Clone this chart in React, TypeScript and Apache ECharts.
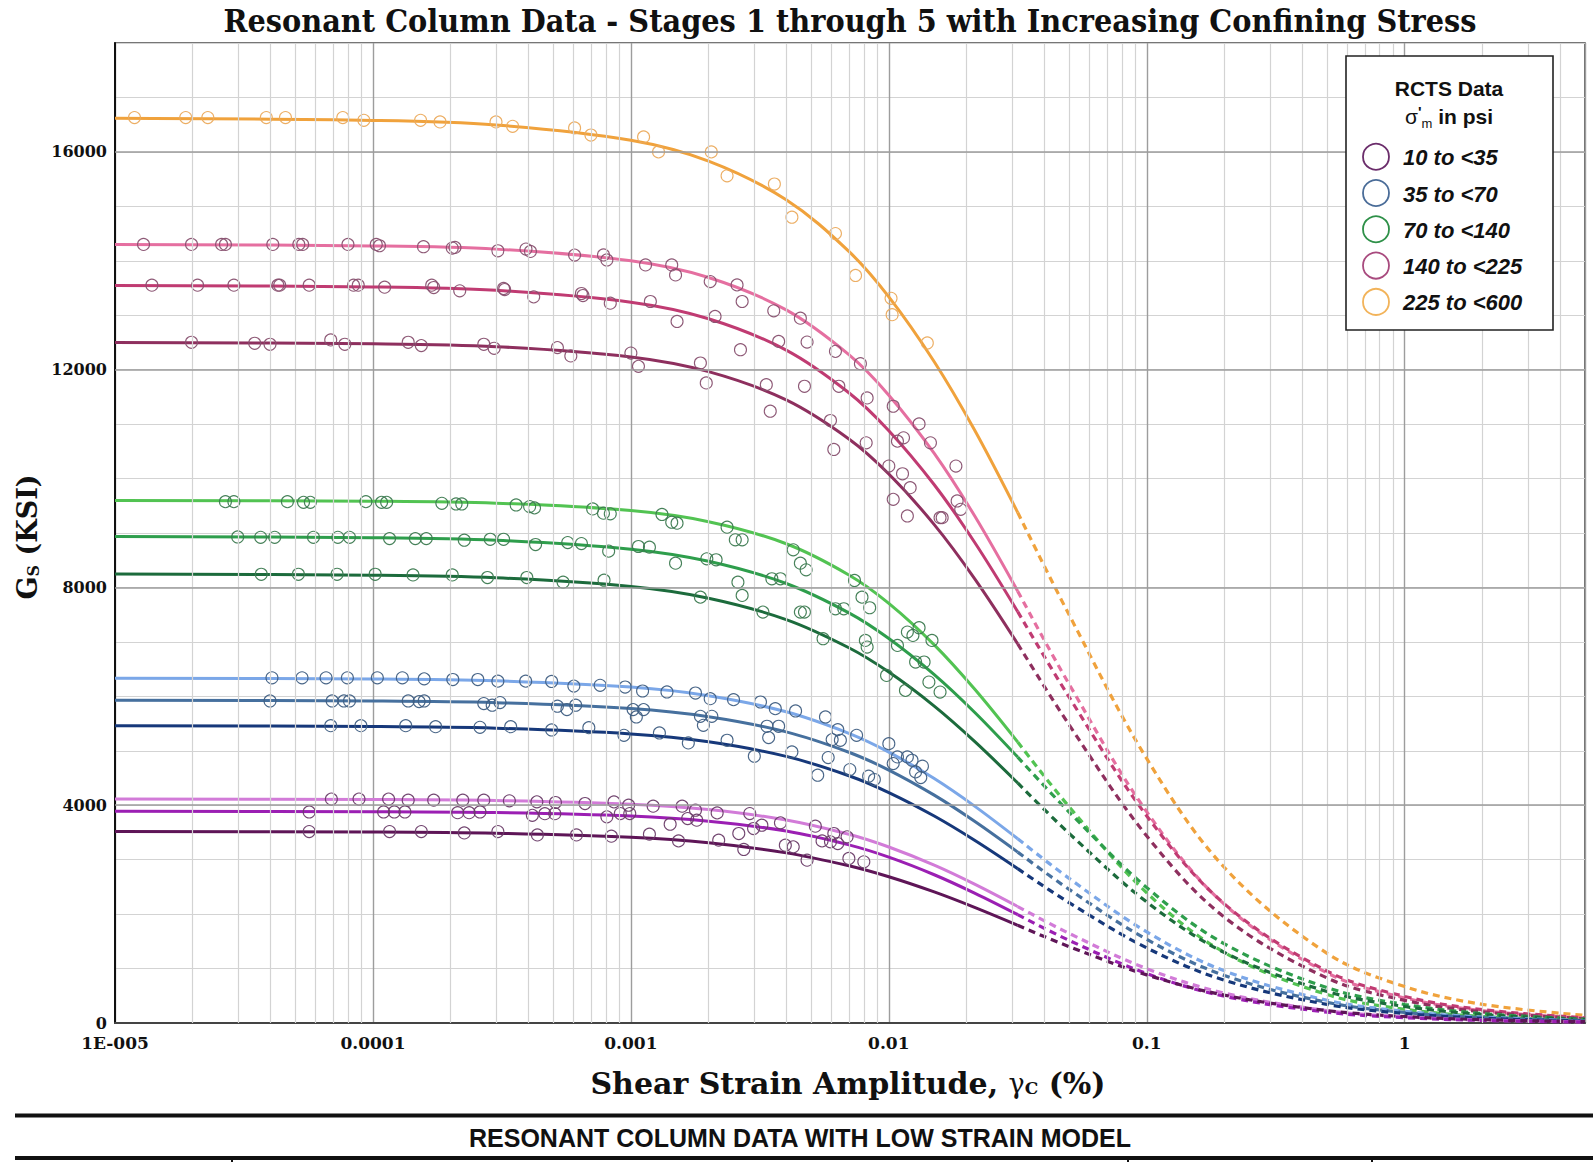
import React, { useEffect, useRef } from "react";
import * as echarts from "echarts";

const W = 1593;
const H = 1162;

// ---------- axis ticks / labels ----------
const xTickLabels = ["1E-005", "0.0001", "0.001", "0.01", "0.1", "1"];
const yMajorTicks = [4000, 8000, 12000, 16000];
const legendLabels = ["10 to <35", "35 to <70", "70 to <140", "140 to <225", "225 to <600"];

// ---------- model curve sample strains (%) ----------
const solidStrain = [1e-5, 1e-4, 3e-4, 1e-3, 2e-3, 4e-3, 7e-3, 0.01, 0.015, 0.0215, 0.0316];
const dashStrain = [0.0316, 0.05, 0.1, 0.2, 0.5, 1, 2, 5];

// ---------- model curves, Gs (ksi) ----------
const orangeSolid = [16616, 16578, 16495, 16215, 15832, 15121, 14172, 13337, 12146, 10891, 9376];
const orangeDash = [9376, 7497, 4855, 2856, 1280, 669, 343, 140];
const pinkSolid = [14298, 14273, 14214, 14000, 13693, 13098, 12275, 11532, 10461, 9316, 7931];
const pinkDash = [7931, 6223, 3879, 2180, 921, 460, 226, 87];
const magentaSolid = [13547, 13520, 13457, 13239, 12936, 12359, 11576, 10879, 9886, 8830, 7556];
const magentaDash = [7556, 5985, 3803, 2188, 954, 488, 245, 97];
const plumSolid = [12498, 12475, 12423, 12234, 11964, 11445, 10728, 10084, 9154, 8163, 6964];
const plumDash = [6964, 5477, 3435, 1943, 827, 416, 205, 80];
const greenLightSolid = [9599, 9584, 9548, 9412, 9208, 8803, 8230, 7708, 6946, 6134, 5161];
const greenLightDash = [5161, 3972, 2391, 1296, 522, 253, 120, 45];
const greenSolid = [8937, 8915, 8867, 8703, 8481, 8073, 7534, 7063, 6400, 5708, 4884];
const greenDash = [4884, 3875, 2487, 1454, 650, 340, 174, 71];
const greenDarkSolid = [8247, 8225, 8178, 8018, 7803, 7410, 6892, 6445, 5820, 5172, 4409];
const greenDarkDash = [4409, 3483, 2222, 1295, 579, 303, 156, 64];
const blueLightSolid = [6333, 6318, 6285, 6170, 6012, 5716, 5321, 4976, 4490, 3984, 3384];
const blueLightDash = [3384, 2656, 1673, 958, 418, 215, 109, 44];
const steelSolid = [5929, 5915, 5884, 5776, 5626, 5347, 4973, 4646, 4185, 3705, 3139];
const steelDash = [3139, 2454, 1536, 874, 379, 194, 97, 39];
const navySolid = [5459, 5445, 5414, 5309, 5165, 4897, 4542, 4233, 3802, 3357, 2835];
const navyDash = [2835, 2210, 1379, 785, 341, 175, 88, 35];
const orchidSolid = [4114, 4106, 4088, 4019, 3920, 3729, 3466, 3232, 2899, 2550, 2139];
const orchidDash = [2139, 1646, 998, 549, 227, 112, 55, 21];
const violetSolid = [3889, 3882, 3865, 3801, 3707, 3525, 3271, 3046, 2723, 2386, 1990];
const violetDash = [1990, 1518, 907, 491, 199, 97, 47, 18];
const purpleSolid = [3519, 3508, 3485, 3410, 3309, 3125, 2888, 2686, 2407, 2123, 1794];
const purpleDash = [1794, 1403, 884, 511, 228, 119, 61, 25];

// ---------- RCTS measured points [strain %, Gs ksi] ----------
const orangePts = [
  [1.19e-5, 16630], [1.88e-5, 16630], [2.29e-5, 16630], [3.86e-5, 16630], [4.58e-5, 16630], [7.64e-5, 16630],
  [9.22e-5, 16580], [1.53e-4, 16580], [1.82e-4, 16550], [3.0e-4, 16550], [3.48e-4, 16470], [6.05e-4, 16440],
  [7.0e-4, 16310], [1.12e-3, 16275], [1.28e-3, 16000], [2.05e-3, 16000], [2.36e-3, 15560], [3.6e-3, 15410],
  [4.21e-3, 14800], [6.21e-3, 14500], [7.43e-3, 13730], [0.0102, 13310], [0.0103, 13010], [0.0141, 12490],
];
const pinkPts = [
  [1.29e-5, 14300], [1.98e-5, 14300], [2.59e-5, 14300], [2.68e-5, 14300], [4.09e-5, 14300], [5.16e-5, 14300],
  [5.34e-5, 14300], [8.0e-5, 14300], [1.03e-4, 14300], [1.06e-4, 14276], [1.57e-4, 14258], [2.03e-4, 14233],
  [2.08e-4, 14245], [3.05e-4, 14184], [3.92e-4, 14215], [4.08e-4, 14172], [6.05e-4, 14104],
  [1.39e-5, 13552], [2.09e-5, 13552], [2.89e-5, 13552], [4.28e-5, 13552], [4.35e-5, 13552], [5.66e-5, 13552],
  [8.41e-5, 13552], [8.77e-5, 13552], [1.11e-4, 13515], [1.69e-4, 13552], [1.72e-4, 13509], [2.17e-4, 13448],
  [3.21e-4, 13491], [3.24e-4, 13472], [4.2e-4, 13337], [6.43e-4, 13399], [6.52e-4, 13362],
  [1.98e-5, 12503], [3.48e-5, 12485], [3.99e-5, 12466], [6.86e-5, 12546], [7.78e-5, 12466], [1.37e-4, 12503],
  [1.54e-4, 12442], [2.69e-4, 12466], [2.95e-4, 12393], [5.19e-4, 12405], [5.85e-4, 12252],
  [7.83e-4, 14107], [8.07e-4, 14015], [1.14e-3, 13924], [1.44e-3, 13924], [1.49e-3, 13740], [2.03e-3, 13618],
  [2.58e-3, 13557], [2.7e-3, 13252], [3.58e-3, 13081], [4.54e-3, 12946], [6.21e-3, 12336], [7.76e-3, 12110],
  [1.04e-2, 11328], [1.31e-2, 11004], [1.45e-2, 10656], [1.82e-2, 10229], [1.84e-2, 9588], [1.9e-2, 9435],
  [8.32e-4, 13221], [1.19e-3, 13252], [1.51e-3, 12885], [2.12e-3, 12977], [2.66e-3, 12366], [3.74e-3, 12519],
  [4.82e-3, 12507], [6.4e-3, 11695], [8.24e-3, 11481], [1.08e-2, 10687], [1.14e-2, 10748], [1.58e-2, 9282],
  [1.0e-3, 12305], [1.07e-3, 12061], [1.86e-3, 12122], [1.96e-3, 11756], [3.35e-3, 11725], [3.47e-3, 11237],
  [4.71e-3, 11695], [5.94e-3, 11066], [6.12e-3, 10534], [8.17e-3, 10656], [0.01, 10229], [1.04e-2, 9618],
  [1.13e-2, 10088], [1.21e-2, 9832], [1.18e-2, 9313], [1.61e-2, 9282],
];
const greenPts = [
  [2.68e-5, 9576], [2.89e-5, 9576], [4.66e-5, 9576], [5.38e-5, 9563], [5.72e-5, 9563], [9.39e-5, 9576],
  [1.08e-4, 9563], [1.13e-4, 9563], [1.85e-4, 9545], [2.1e-4, 9533], [2.21e-4, 9533], [3.59e-4, 9515],
  [4.05e-4, 9485], [4.23e-4, 9461], [7.11e-4, 9442],
  [2.99e-5, 8927], [3.67e-5, 8921], [4.16e-5, 8921], [5.88e-5, 8921], [7.31e-5, 8921], [8.11e-5, 8921],
  [1.16e-4, 8897], [1.46e-4, 8897], [1.61e-4, 8897], [2.26e-4, 8867], [2.85e-4, 8885], [3.21e-4, 8885],
  [4.27e-4, 8788], [5.69e-4, 8824], [6.43e-4, 8806],
  [3.69e-5, 8242], [5.14e-5, 8242], [7.26e-5, 8242], [1.02e-4, 8242], [1.43e-4, 8230], [2.03e-4, 8230],
  [2.78e-4, 8182], [3.95e-4, 8182], [5.46e-4, 8097], [7.87e-4, 8133],
  [7.83e-4, 9364], [8.32e-4, 9352], [1.32e-3, 9340], [1.44e-3, 9198], [1.51e-3, 9180], [2.36e-3, 9107],
  [2.54e-3, 8875], [2.7e-3, 8875], [4.26e-3, 8691], [4.54e-3, 8446], [4.78e-3, 8324], [7.36e-3, 8128],
  [7.87e-3, 7822], [8.43e-3, 7627], [1.18e-2, 7180], [1.31e-2, 7260], [1.47e-2, 7027], [1.24e-2, 7119],
  [1.37e-2, 6630], [1.07e-3, 8752], [1.18e-3, 8740], [8.2e-4, 8667], [1.49e-3, 8446], [1.97e-3, 8526],
  [2.14e-3, 8508], [1.86e-3, 7822], [2.6e-3, 8097], [2.7e-3, 7853], [3.52e-3, 8159], [3.8e-3, 8159],
  [3.25e-3, 7547], [4.54e-3, 7547], [4.71e-3, 7547], [5.56e-3, 7058], [6.21e-3, 7608], [6.69e-3, 7608],
  [8.11e-3, 7027], [8.24e-3, 6905], [9.8e-3, 6384], [1.08e-2, 6935], [1.16e-2, 6109], [1.27e-2, 6630],
  [1.43e-2, 6262], [1.58e-2, 6078],
];
const bluePts = [
  [4.06e-5, 6340], [5.31e-5, 6340], [6.58e-5, 6340], [7.96e-5, 6340], [1.04e-4, 6340], [1.3e-4, 6340],
  [1.58e-4, 6321], [2.04e-4, 6309], [2.55e-4, 6309], [3.05e-4, 6279], [3.91e-4, 6279], [4.93e-4, 6273],
  [6.01e-4, 6188],
  [3.99e-5, 5915], [6.95e-5, 5915], [7.72e-5, 5915], [8.11e-5, 5915], [1.37e-4, 5915], [1.51e-4, 5903],
  [1.58e-4, 5915], [2.69e-4, 5867], [2.9e-4, 5837], [3.11e-4, 5885], [5.19e-4, 5818], [5.65e-4, 5758],
  [6.11e-4, 5837],
  [6.86e-5, 5461], [8.98e-5, 5461], [1.34e-4, 5461], [1.75e-4, 5443], [2.6e-4, 5431], [3.42e-4, 5443],
  [4.93e-4, 5382], [6.87e-4, 5425],
  [7.6e-4, 6202], [9.5e-4, 6171], [1.11e-3, 6098], [1.38e-3, 6080], [1.78e-3, 6061], [2.03e-3, 5957],
  [2.5e-3, 5939], [3.18e-3, 5896], [3.63e-3, 5774], [4.35e-3, 5731], [5.68e-3, 5621], [6.34e-3, 5388],
  [7.5e-3, 5284], [0.01, 5131], [1.08e-2, 4887], [1.18e-2, 4887], [1.23e-2, 4826], [1.35e-2, 4716],
  [1.27e-2, 4612], [1.33e-2, 4508], [1.04e-2, 4765],
  [1.02e-3, 5756], [1.12e-3, 5756], [1.05e-3, 5621], [9.4e-4, 5284], [1.29e-3, 5327], [1.67e-3, 5144],
  [1.86e-3, 5633], [2.06e-3, 5633], [1.91e-3, 5468], [2.36e-3, 5193], [3.01e-3, 4900], [3.37e-3, 5450],
  [3.74e-3, 5450], [3.42e-3, 5242], [4.21e-3, 4979], [5.3e-3, 4551], [5.82e-3, 4875], [6.03e-3, 5205],
  [6.49e-3, 5193], [7.06e-3, 4655], [8.35e-3, 4533], [8.79e-3, 4472],
];
const purplePts = [
  [6.9e-5, 4112], [8.83e-5, 4112], [1.15e-4, 4112], [1.37e-4, 4093], [1.72e-4, 4093], [2.23e-4, 4093],
  [2.69e-4, 4093], [3.38e-4, 4081], [4.32e-4, 4062], [5.1e-4, 4050], [6.64e-4, 4031],
  [5.66e-5, 3876], [1.1e-4, 3876], [1.21e-4, 3876], [1.33e-4, 3876], [2.13e-4, 3863], [2.36e-4, 3863],
  [2.6e-4, 3876], [4.15e-4, 3814], [4.64e-4, 3845], [5.07e-4, 3845],
  [5.66e-5, 3516], [1.16e-4, 3516], [1.54e-4, 3516], [2.26e-4, 3491], [3.05e-4, 3516], [4.34e-4, 3454],
  [6.15e-4, 3454],
  [8.6e-4, 4061], [9.8e-4, 4000], [1.22e-3, 3982], [1.58e-3, 3982], [1.78e-3, 3908], [2.16e-3, 3859],
  [2.89e-3, 3847], [3.8e-3, 3676], [5.19e-3, 3615], [6.12e-3, 3480], [6.89e-3, 3419],
  [8.07e-4, 3786], [9.1e-4, 3847], [9.9e-4, 3847], [1.42e-3, 3651], [1.66e-3, 3755], [1.8e-3, 3725],
  [2.62e-3, 3480], [2.99e-3, 3572], [3.22e-3, 3633], [5.51e-3, 3345], [5.94e-3, 3327], [6.34e-3, 3296],
  [8.4e-4, 3431], [1.18e-3, 3468], [1.53e-3, 3345], [2.19e-3, 3358], [2.74e-3, 3187], [3.97e-3, 3266],
  [4.26e-3, 3235], [4.82e-3, 2991], [7.0e-3, 3022], [8.0e-3, 2960],
];

// ---------- styling ----------
const SERIF = '"DejaVu Serif", "Liberation Serif", serif';
const SANS = '"Liberation Sans", Arial, sans-serif';

const curves = [
  { color: "#F0A23C", solid: orangeSolid, dash: orangeDash },
  { color: "#E56FA0", solid: pinkSolid, dash: pinkDash },
  { color: "#C03B72", solid: magentaSolid, dash: magentaDash },
  { color: "#8E2F5E", solid: plumSolid, dash: plumDash },
  { color: "#52C352", solid: greenLightSolid, dash: greenLightDash },
  { color: "#2E9E4C", solid: greenSolid, dash: greenDash },
  { color: "#1C6B3C", solid: greenDarkSolid, dash: greenDarkDash },
  { color: "#7BA7E8", solid: blueLightSolid, dash: blueLightDash },
  { color: "#46709E", solid: steelSolid, dash: steelDash },
  { color: "#16387A", solid: navySolid, dash: navyDash },
  { color: "#D27BD8", solid: orchidSolid, dash: orchidDash },
  { color: "#9B1FB3", solid: violetSolid, dash: violetDash },
  { color: "#5E1557", solid: purpleSolid, dash: purpleDash },
];

const pointGroups = [
  { name: legendLabels[0], pts: purplePts, color: "#6A3C68", legend: "#6B2D6B" },
  { name: legendLabels[1], pts: bluePts, color: "#3F5E82", legend: "#4A6C98" },
  { name: legendLabels[2], pts: greenPts, color: "#3C7A50", legend: "#2E9048" },
  { name: legendLabels[3], pts: pinkPts, color: "#87506F", legend: "#A84A7E" },
  { name: legendLabels[4], pts: orangePts, color: "#EBAA5C", legend: "#F2B35A" },
];

// minor (2..9) tick values of the log axis, per decade, up to the axis max
const X_MIN = 1e-5;
const X_MAX = 5;
const xMinorTicks: number[] = [];
for (let d = -5; d <= 0; d++) {
  for (let k = 2; k <= 9; k++) {
    const v = k * Math.pow(10, d);
    if (v < X_MAX) xMinorTicks.push(v);
  }
}

function buildOption() {
  const series: any[] = [];

  // grid lines drawn as marker lines (below everything)
  series.push({
    type: "line",
    data: [],
    z: 1,
    silent: true,
    markLine: {
      silent: true,
      precision: 12,
      symbol: ["none", "none"],
      animation: false,
      label: { show: false },
      emphasis: { disabled: true },
      data: [
        ...xMinorTicks.map((v) => ({ xAxis: v, lineStyle: { color: "#d3d3d3", width: 1.2, type: "solid" } })),
        ...yMajorTicks.map((v) => ({ yAxis: v, lineStyle: { color: "#9d9d9d", width: 1.6, type: "solid" } })),
      ],
    },
  });

  curves.forEach((c) => {
    series.push({
      type: "line",
      data: solidStrain.map((x, i) => [x, c.solid[i]]),
      showSymbol: false,
      smooth: 0.35,
      z: 3,
      silent: true,
      lineStyle: { color: c.color, width: 3 },
    });
    series.push({
      type: "line",
      data: dashStrain.map((x, i) => [x, c.dash[i]]),
      showSymbol: false,
      smooth: 0.35,
      z: 3,
      silent: true,
      lineStyle: { color: c.color, width: 3.2, type: [7, 5] },
    });
  });

  pointGroups.forEach((g) => {
    series.push({
      type: "scatter",
      name: g.name,
      data: g.pts,
      symbol: "circle",
      symbolSize: 12,
      z: 4,
      silent: true,
      itemStyle: { color: "rgba(255,255,255,0)", borderColor: g.color, borderWidth: 1.1, opacity: 0.95 },
    });
  });

  const legendTop = 156.7;
  const legendGap = 36.3;
  const legendEls: any[] = [
    {
      type: "rect",
      shape: { x: 1346, y: 56, width: 207, height: 274 },
      style: { fill: "#fff", stroke: "#222", lineWidth: 1.6 },
      z: 10,
    },
    {
      type: "text",
      x: 1449,
      y: 88,
      z: 11,
      style: {
        text: "RCTS Data",
        fontFamily: SANS,
        fontWeight: "bold",
        fontSize: 21,
        fill: "#111",
        align: "center",
        verticalAlign: "middle",
        textAlign: "center",
        textVerticalAlign: "middle",
      },
    },
    {
      type: "text",
      x: 1449,
      y: 116,
      z: 11,
      style: {
        text: "{s|σ}{p|'}{m|m}{t| in psi}",
        align: "center",
        verticalAlign: "middle",
        textAlign: "center",
        textVerticalAlign: "middle",
        fill: "#111",
        rich: {
          s: { fontFamily: SANS, fontSize: 21, fill: "#111" },
          p: { fontFamily: SANS, fontSize: 15, fontWeight: "bold", fill: "#111", padding: [0, 0, 10, 0] },
          m: { fontFamily: SANS, fontSize: 13, fill: "#111", padding: [14, 0, 0, 0] },
          t: { fontFamily: SANS, fontSize: 21, fontWeight: "bold", fill: "#111" },
        },
      },
    },
  ];
  pointGroups.forEach((g, i) => {
    const cy = legendTop + i * legendGap;
    legendEls.push({
      type: "circle",
      z: 11,
      shape: { cx: 1376, cy, r: 13 },
      style: { fill: "none", stroke: g.legend, lineWidth: 1.8 },
    });
    legendEls.push({
      type: "text",
      z: 11,
      x: 1403,
      y: cy + 1,
      style: {
        text: g.name,
        fontFamily: SANS,
        fontWeight: "bold",
        fontStyle: "italic",
        fontSize: 22,
        fill: "#111",
        align: "left",
        verticalAlign: "middle",
        textAlign: "left",
        textVerticalAlign: "middle",
      },
    });
  });

  const graphic: any[] = [
    {
      type: "text",
      x: 850,
      y: 21,
      scaleX: 0.93,
      style: {
        text: "Resonant Column Data - Stages 1 through 5 with Increasing Confining Stress",
        fontFamily: SERIF,
        fontWeight: "bold",
        fontSize: 31,
        fill: "#111",
        align: "center",
        verticalAlign: "middle",
        textAlign: "center",
        textVerticalAlign: "middle",
      },
    },
    {
      type: "text",
      x: 848,
      y: 1083,
      style: {
        text: "{a|Shear Strain Amplitude, }{g|γ}{c|C}{a| (%)}",
        align: "center",
        verticalAlign: "middle",
        textAlign: "center",
        textVerticalAlign: "middle",
        fill: "#111",
        rich: {
          a: { fontFamily: SERIF, fontWeight: "bold", fontSize: 30, fill: "#111" },
          g: { fontFamily: SERIF, fontSize: 27, fill: "#111" },
          c: { fontFamily: SERIF, fontWeight: "bold", fontSize: 17, fill: "#111", padding: [10, 0, 0, 0] },
        },
      },
    },
    {
      type: "text",
      x: 27,
      y: 537,
      rotation: Math.PI / 2,
      style: {
        text: "{a|G}{s|S}{a| (KSI)}",
        align: "center",
        verticalAlign: "middle",
        textAlign: "center",
        textVerticalAlign: "middle",
        fill: "#111",
        rich: {
          a: { fontFamily: SERIF, fontWeight: "bold", fontSize: 27, fill: "#111" },
          s: { fontFamily: SERIF, fontWeight: "bold", fontSize: 16, fill: "#111", padding: [12, 0, 0, 0] },
        },
      },
    },
    ...legendEls,
    {
      type: "line",
      shape: { x1: 15, y1: 1115.5, x2: W, y2: 1115.5 },
      style: { stroke: "#111", lineWidth: 4 },
    },
    {
      type: "text",
      x: 800,
      y: 1138,
      style: {
        text: "RESONANT COLUMN DATA WITH LOW STRAIN MODEL",
        fontFamily: SANS,
        fontWeight: "bold",
        fontSize: 25,
        fill: "#111",
        align: "center",
        verticalAlign: "middle",
        textAlign: "center",
        textVerticalAlign: "middle",
      },
    },
    {
      type: "line",
      shape: { x1: 15, y1: 1158, x2: W, y2: 1158 },
      style: { stroke: "#111", lineWidth: 4 },
    },
    ...[232, 1128, 1372].map((x) => ({
      type: "line",
      shape: { x1: x, y1: 1158, x2: x, y2: H },
      style: { stroke: "#111", lineWidth: 2 },
    })),
  ];

  return {
    animation: false,
    backgroundColor: "#ffffff",
    grid: {
      left: 115,
      right: 8,
      top: 43,
      bottom: 139,
      show: true,
      borderColor: "#4a4a4a",
      borderWidth: 1.6,
      backgroundColor: "rgba(0,0,0,0)",
    },
    xAxis: {
      type: "log",
      logBase: 10,
      min: X_MIN,
      max: X_MAX,
      axisLine: { show: true, lineStyle: { color: "#444", width: 2 } },
      axisTick: { show: false },
      splitLine: { show: true, lineStyle: { color: "#9d9d9d", width: 1.4 } },
      axisLabel: {
        margin: 11,
        fontFamily: SERIF,
        fontWeight: "bold",
        fontSize: 17,
        color: "#111",
        showMaxLabel: true,
        formatter: (v: number) => {
          const lg = Math.log10(v);
          const e = Math.round(lg);
          if (Math.abs(lg - e) > 0.01) return "";
          return xTickLabels[e + 5] ?? "";
        },
      },
    },
    yAxis: {
      type: "value",
      min: 0,
      max: 18000,
      interval: 1000,
      axisLine: { show: true, lineStyle: { color: "#111", width: 2 } },
      axisTick: { show: false },
      splitLine: { show: true, lineStyle: { color: "#d3d3d3", width: 1.2 } },
      axisLabel: {
        margin: 8,
        fontFamily: SERIF,
        fontWeight: "bold",
        fontSize: 16,
        color: "#111",
        formatter: (v: number) => (v % 4000 === 0 ? String(v) : ""),
      },
    },
    series,
    graphic,
  };
}

export default function App() {
  const ref = useRef<HTMLDivElement>(null);
  useEffect(() => {
    if (!ref.current) return;
    const chart = echarts.init(ref.current, null, { renderer: "svg" });
    chart.setOption(buildOption() as any);
    return () => chart.dispose();
  }, []);
  return (
    <div
      ref={ref}
      style={{ position: "fixed", left: 0, top: 0, width: W, height: H, background: "#fff" }}
    />
  );
}
